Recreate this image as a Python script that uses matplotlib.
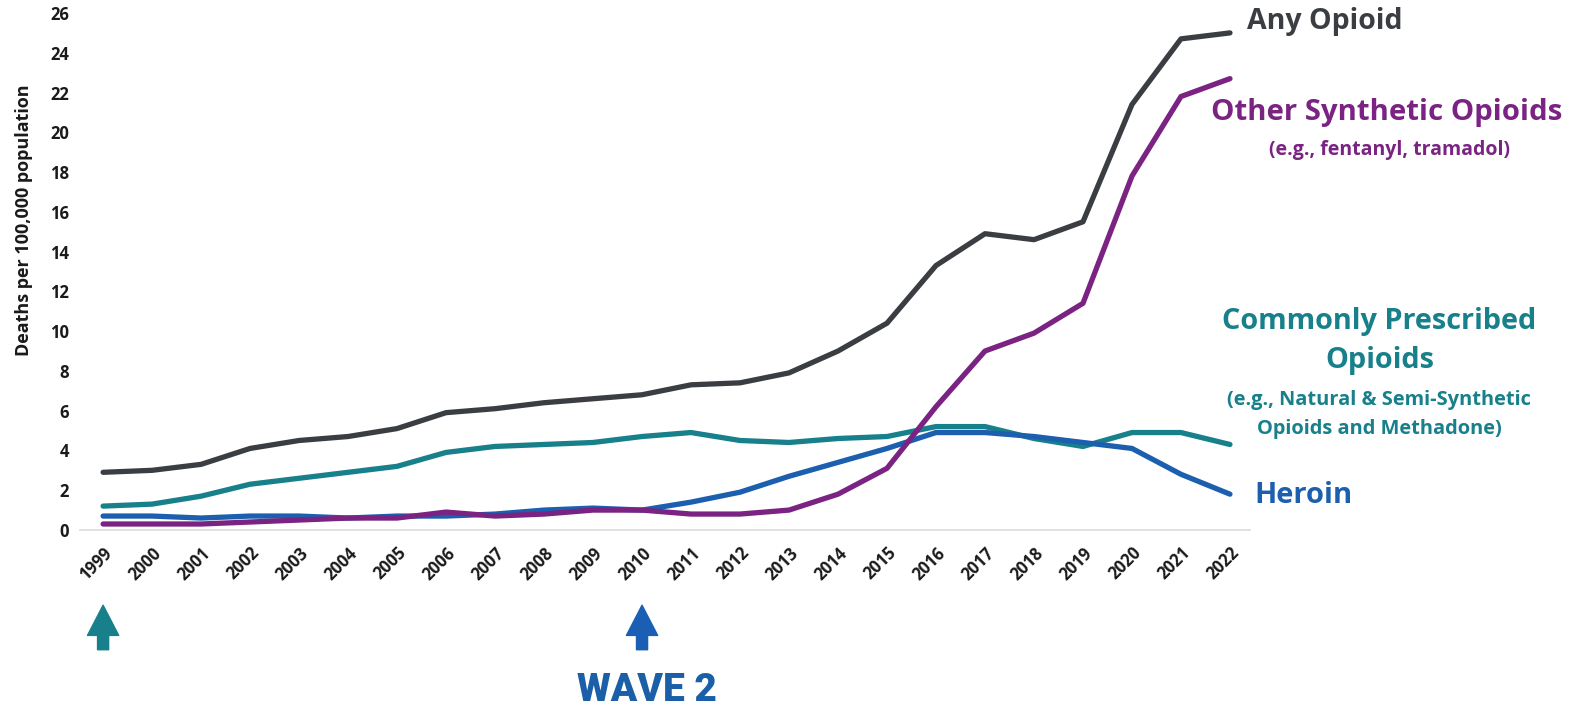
#!/usr/bin/env python3

import matplotlib
matplotlib.use("Agg")
import matplotlib.pyplot as plt


# =====================================================
# DATA
# =====================================================

YEARS = list(range(1999, 2023))

ANY_OPIOID = [2.9, 3.0, 3.3, 4.1, 4.5, 4.7, 5.1, 5.9, 6.1, 6.4, 6.6, 6.8,
              7.3, 7.4, 7.9, 9.0, 10.4, 13.3, 14.9, 14.6, 15.5, 21.4, 24.7, 25.0]

SYNTHETIC = [0.3, 0.3, 0.3, 0.4, 0.5, 0.6, 0.6, 0.9, 0.7, 0.8, 1.0, 1.0,
             0.8, 0.8, 1.0, 1.8, 3.1, 6.2, 9.0, 9.9, 11.4, 17.8, 21.8, 22.7]

PRESCRIBED = [1.2, 1.3, 1.7, 2.3, 2.6, 2.9, 3.2, 3.9, 4.2, 4.3, 4.4, 4.7,
              4.9, 4.5, 4.4, 4.6, 4.7, 5.2, 5.2, 4.6, 4.2, 4.9, 4.9, 4.3]

HEROIN = [0.7, 0.7, 0.6, 0.7, 0.7, 0.6, 0.7, 0.7, 0.8, 1.0, 1.1, 1.0,
          1.4, 1.9, 2.7, 3.4, 4.1, 4.9, 4.9, 4.7, 4.4, 4.1, 2.8, 1.8]

Y_TICKS = list(range(0, 27, 2))

WAVE_YEARS = [1999, 2010]
WAVE_LABEL = "WAVE 2"


# =====================================================
# STYLE
# =====================================================

plt.rcParams["font.family"] = ["Open Sans", "DejaVu Sans"]

C_ANY = "#3a3e43"
C_SYN = "#7a2382"
C_PRESC = "#17808a"
C_HER = "#1b5fae"
C_WAVE = ["#17808a", "#1a5fb4"]

LW = 3.8


def main():
    fig = plt.figure(figsize=(15.73, 7.07), dpi=100)
    ax = fig.add_axes([0.0509, 0.2504, 0.7438, 0.7312])

    series = [
        (ANY_OPIOID, C_ANY),
        (PRESCRIBED, C_PRESC),
        (HEROIN, C_HER),
        (SYNTHETIC, C_SYN),
    ]
    for values, color in series:
        ax.plot(YEARS, values, color=color, linewidth=LW,
                solid_capstyle="round", solid_joinstyle="round")

    ax.set_xlim(1998.53, 2022.41)
    ax.set_ylim(0, 26)
    ax.set_yticks(Y_TICKS)
    ax.set_xticks(YEARS)
    ax.set_xticklabels([str(y) for y in YEARS], rotation=45,
                       ha="right", va="top", rotation_mode="anchor",
                       fontsize=12, fontweight="bold")
    for lbl in ax.get_yticklabels():
        lbl.set_fontsize(12)
        lbl.set_fontweight("bold")
    ax.tick_params(axis="both", length=0, pad=8, colors="#1a1a1a")
    ax.tick_params(axis="x", pad=10)

    for side in ["top", "right", "left"]:
        ax.spines[side].set_visible(False)
    ax.spines["bottom"].set_color("#dcdcdc")
    ax.spines["bottom"].set_linewidth(1.2)

    ax.set_ylabel("Deaths per 100,000 population", fontsize=13,
                  fontweight="bold", color="#1a1a1a")
    ax.yaxis.set_label_coords(-0.04, 0.60)

    # series labels right of the lines
    ax.text(2022.35, 25.55, "Any Opioid", color=C_ANY,
            fontsize=20.5, fontweight="bold", ha="left", va="center",
            clip_on=False)

    ax.text(2025.2, 21.0, "Other Synthetic Opioids", color=C_SYN,
            fontsize=21.2, fontweight="bold", ha="center", va="center",
            clip_on=False)
    ax.text(2025.25, 19.1, "(e.g., fentanyl, tramadol)", color=C_SYN,
            fontsize=14, fontweight="bold", ha="center", va="center",
            clip_on=False)

    ax.text(2025.05, 10.5, "Commonly Prescribed", color=C_PRESC,
            fontsize=20.8, fontweight="bold", ha="center", va="center",
            clip_on=False)
    ax.text(2025.05, 8.5, "Opioids", color=C_PRESC,
            fontsize=20.8, fontweight="bold", ha="center", va="center",
            clip_on=False)
    ax.text(2025.05, 6.55, "(e.g., Natural & Semi-Synthetic", color=C_PRESC,
            fontsize=14.4, fontweight="bold", ha="center", va="center",
            clip_on=False)
    ax.text(2025.05, 5.1, "Opioids and Methadone)", color=C_PRESC,
            fontsize=14.4, fontweight="bold", ha="center", va="center",
            clip_on=False)

    ax.text(2022.5, 1.75, "Heroin", color=C_HER,
            fontsize=21, fontweight="bold", ha="left", va="center",
            clip_on=False)

    # wave arrows under the axis
    for year, color in zip(WAVE_YEARS, C_WAVE):
        ax.annotate(
            "",
            xy=(year, 0.144),
            xytext=(year, 0.081),
            xycoords=("data", "figure fraction"),
            textcoords=("data", "figure fraction"),
            arrowprops=dict(
                arrowstyle="simple,head_length=1.5,head_width=1.55,tail_width=0.55",
                mutation_scale=14.5,
                color=color,
                shrinkA=0,
                shrinkB=0,
            ),
            annotation_clip=False,
        )

    ax.annotate(
        WAVE_LABEL,
        xy=(WAVE_YEARS[1] + 0.1, 0.024),
        xycoords=("data", "figure fraction"),
        ha="center", va="center",
        fontsize=28, fontweight="heavy", color="#1a5fa8",
        family=["Roboto", "DejaVu Sans"],
        annotation_clip=False,
    )

    fig.savefig("out.png", dpi=100, facecolor="white")


if __name__ == "__main__":
    main()
